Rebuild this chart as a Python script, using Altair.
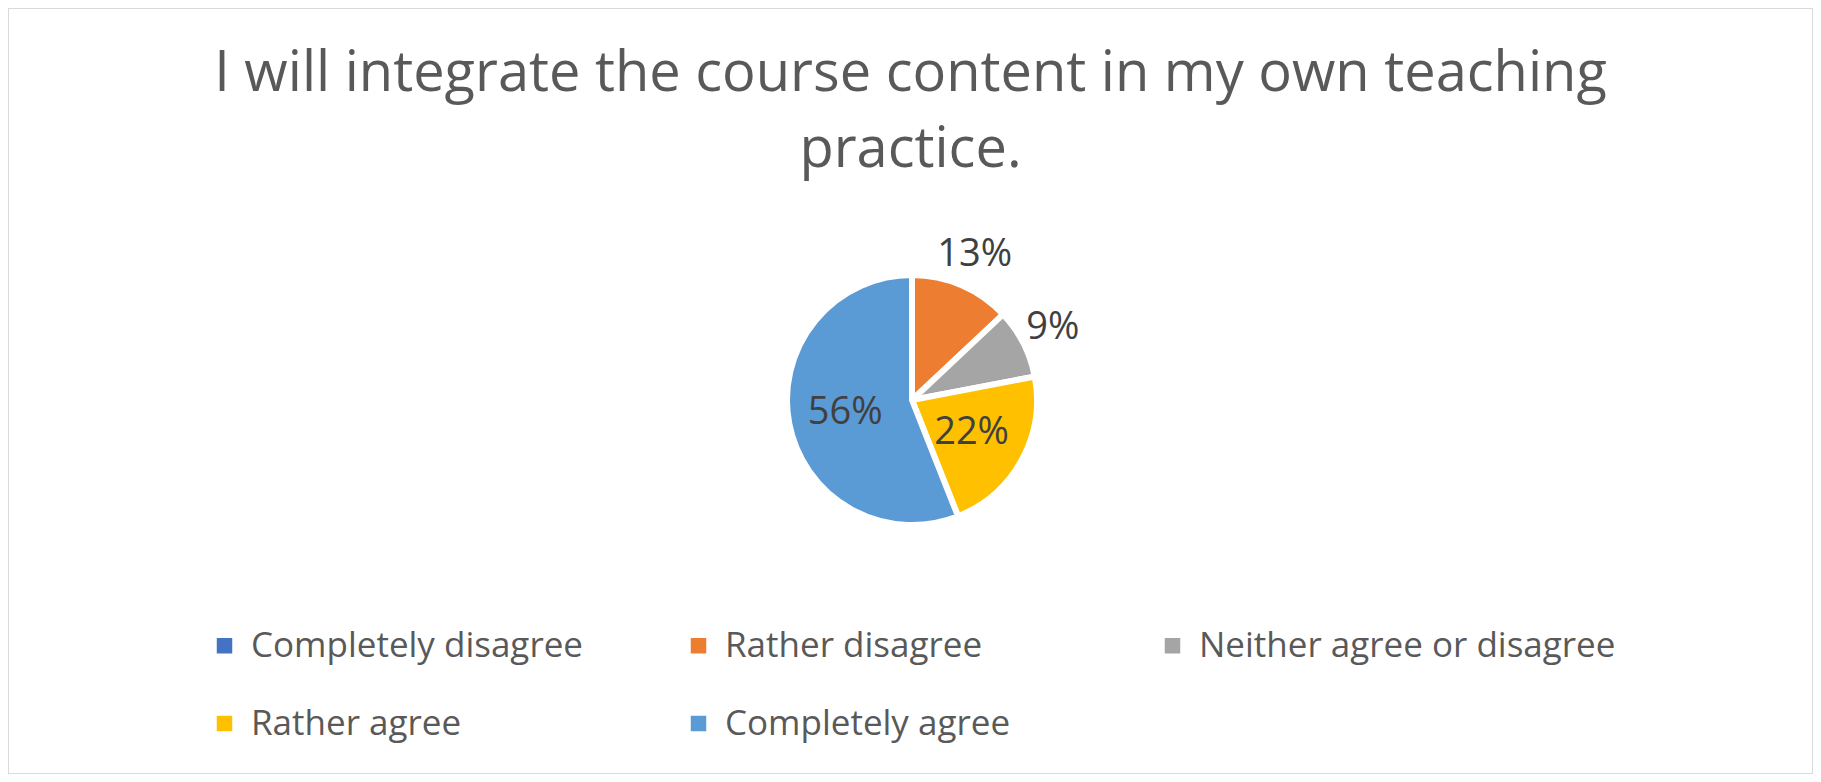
import altair as alt
import pandas as pd

categories = ["Completely disagree", "Rather disagree", "Neither agree or disagree",
              "Rather agree", "Completely agree"]
values = [0, 13, 9, 22, 56]
colors = ["#4472C4", "#ED7D31", "#A5A5A5", "#FFC000", "#5B9BD5"]
title_lines = ["I will integrate the course content in my own teaching", "practice."]

df = pd.DataFrame({"category": categories, "value": values, "order": list(range(len(values)))})

FONT = "Open Sans"
TXT = "#595959"
CX, CY, R = 904, 392, 125

base = alt.Chart(df)

color_enc = alt.Color(
    "category:N",
    scale=alt.Scale(domain=categories, range=colors),
    sort=categories,
    legend=alt.Legend(
        title=None, orient="none", legendX=199, legendY=620, columns=3,
        direction="horizontal",
        gridAlign="all", columnPadding=13, rowPadding=42,
        symbolType="square", symbolSize=240, symbolStrokeWidth=0,
        labelFont=FONT, labelFontSize=35, labelColor=TXT, labelLimit=600,
        labelOffset=9, padding=0,
    ),
)

pie = base.mark_arc(outerRadius=R, stroke="white", strokeWidth=6).encode(
    theta=alt.Theta("value:Q", stack=True, scale=alt.Scale(domain=[0, 100])),
    color=color_enc,
    order=alt.Order("order:Q"),
    x=alt.value(CX), y=alt.value(CY),
)

lab = base.transform_window(
    cum="sum(value)", sort=[alt.SortField("order")], frame=[None, 0]
).transform_calculate(
    mid="datum.cum - datum.value / 2",
    label="datum.value + '%'",
)

theta_mid = alt.Theta("mid:Q", stack=None, scale=alt.Scale(domain=[0, 100]))

inside = lab.transform_filter("datum.value >= 15").mark_text(
    radius=68, font=FONT, fontSize=38, color="#404040"
).encode(
    theta=theta_mid,
    text=alt.Text("label:N"),
    x=alt.value(CX), y=alt.value(CY),
)

outside = lab.transform_filter("datum.value > 0 && datum.value < 15").mark_text(
    radius=158, font=FONT, fontSize=38, color="#404040"
).encode(
    theta=theta_mid,
    text=alt.Text("label:N"),
    x=alt.value(CX), y=alt.value(CY),
)

chart = alt.layer(pie, inside, outside).properties(
    width=1805, height=766,
    autosize=alt.AutoSizeParams(type="none"),
    padding=0,
    title=alt.TitleParams(
        text=title_lines, font=FONT, fontSize=56, fontWeight="normal", color=TXT,
        anchor="middle", lineHeight=76, offset=-227, baseline="bottom",
    ),
).configure_view(stroke="#d9d9d9", strokeWidth=2)

chart.save("out.html", embed_options={"renderer": "svg", "actions": False})
